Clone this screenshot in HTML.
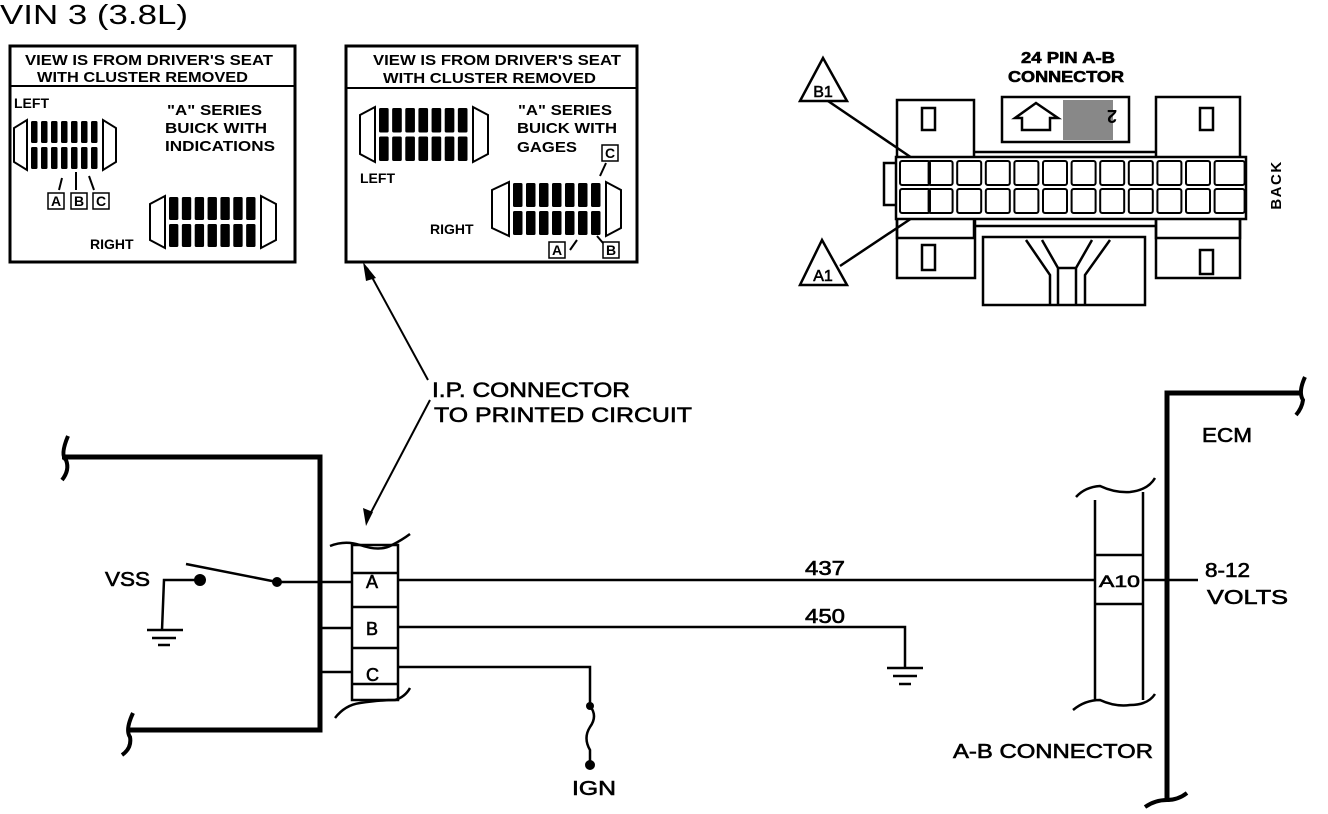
<!DOCTYPE html>
<html><head><meta charset="utf-8"><style>
html,body{margin:0;padding:0;background:#fff;}
svg{display:block;}
text{font-family:"Liberation Sans",sans-serif;fill:#000;}
.b{font-weight:bold;}
.m{stroke:#000;stroke-width:0.6;}
</style></head><body>
<svg id="s" width="1328" height="814" viewBox="0 0 1328 814" xmlns="http://www.w3.org/2000/svg">
<text x="0" y="24" font-size="28" textLength="188" lengthAdjust="spacingAndGlyphs">VIN 3 (3.8L)</text>

<!-- Box 1 -->
<rect x="10" y="46" width="285" height="216" fill="none" stroke="#000" stroke-width="3"/>
<line x1="10" y1="86" x2="295" y2="86" stroke="#000" stroke-width="2"/>
<text class="b" x="25" y="65" font-size="15" textLength="248" lengthAdjust="spacingAndGlyphs">VIEW IS FROM DRIVER'S SEAT</text>
<text class="b" x="37" y="82" font-size="15" textLength="211" lengthAdjust="spacingAndGlyphs">WITH CLUSTER REMOVED</text>
<text class="b" x="14" y="108" font-size="14">LEFT</text>
<text class="b" x="167" y="115" font-size="15" textLength="95" lengthAdjust="spacingAndGlyphs">"A" SERIES</text>
<text class="b" x="165" y="133" font-size="15" textLength="102" lengthAdjust="spacingAndGlyphs">BUICK WITH</text>
<text class="b" x="165" y="151" font-size="15" textLength="110" lengthAdjust="spacingAndGlyphs">INDICATIONS</text>
<text class="b" x="90" y="249" font-size="14">RIGHT</text>

<!-- Box 2 -->
<rect x="346" y="46" width="291" height="216" fill="none" stroke="#000" stroke-width="3"/>
<line x1="346" y1="88" x2="637" y2="88" stroke="#000" stroke-width="2"/>
<text class="b" x="373" y="65" font-size="15" textLength="248" lengthAdjust="spacingAndGlyphs">VIEW IS FROM DRIVER'S SEAT</text>
<text class="b" x="383" y="83" font-size="15" textLength="213" lengthAdjust="spacingAndGlyphs">WITH CLUSTER REMOVED</text>
<text class="b" x="518" y="115" font-size="15" textLength="94" lengthAdjust="spacingAndGlyphs">"A" SERIES</text>
<text class="b" x="517" y="133" font-size="15" textLength="100" lengthAdjust="spacingAndGlyphs">BUICK WITH</text>
<text class="b" x="517" y="152" font-size="15" textLength="60" lengthAdjust="spacingAndGlyphs">GAGES</text>
<text class="b" x="360" y="183" font-size="14">LEFT</text>
<text class="b" x="430" y="234" font-size="14">RIGHT</text>

<g id="pins"></g>

<g font-size="13" class="b" text-anchor="middle" stroke="#000" stroke-width="1.5" fill="none">
<rect x="48" y="193" width="16" height="16"/><rect x="71" y="193" width="16" height="16"/><rect x="93" y="193" width="16" height="16"/>
<rect x="602" y="145" width="16" height="16"/><rect x="549" y="242" width="16" height="16"/><rect x="603" y="242" width="16" height="16"/>
</g>
<g font-size="14" class="b" text-anchor="middle">
<text x="56" y="206">A</text><text x="79" y="206">B</text><text x="101" y="206">C</text>
<text x="610" y="158">C</text><text x="557" y="255">A</text><text x="611" y="255">B</text>
</g>
<g stroke="#000" stroke-width="2">
<line x1="62" y1="178" x2="59" y2="190"/><line x1="76" y1="172" x2="76" y2="190"/><line x1="89" y1="176" x2="94" y2="190"/>
<line x1="606" y1="163" x2="600" y2="176"/><line x1="570" y1="250" x2="577" y2="240"/><line x1="603" y1="243" x2="597" y2="236"/>
</g>

<g stroke="#000" stroke-width="2" fill="none">
<line x1="428" y1="380" x2="367" y2="268"/>
<line x1="430" y1="400" x2="367" y2="520"/>
</g>
<polygon points="363,262 376,278 366,281" fill="#000"/>
<polygon points="366,526 363,508 373,512" fill="#000"/>
<text class="m" x="432" y="397" font-size="21" textLength="198" lengthAdjust="spacingAndGlyphs">I.P. CONNECTOR</text>
<text class="m" x="434" y="422" font-size="21" textLength="258" lengthAdjust="spacingAndGlyphs">TO PRINTED CIRCUIT</text>

<!-- 24 pin connector -->
<text class="b m" x="1021" y="63" font-size="16" textLength="94" lengthAdjust="spacingAndGlyphs">24 PIN A-B</text>
<text class="b m" x="1008" y="82" font-size="16" textLength="116" lengthAdjust="spacingAndGlyphs">CONNECTOR</text>
<text class="b" x="1276" y="190" font-size="15" text-anchor="middle" transform="rotate(-90 1276 185)" letter-spacing="1.5">BACK</text>
<g stroke="#000" stroke-width="2.5" fill="#fff">
<polygon points="823,58 800,101 847,101"/>
<polygon points="822,240 800,285 847,285"/>
</g>
<text x="823" y="97" font-size="16" text-anchor="middle" class="m">B1</text>
<text x="823" y="281" font-size="16" text-anchor="middle" class="m">A1</text>
<g stroke="#000" stroke-width="2.5" fill="none">
<line x1="828" y1="101" x2="912" y2="158"/>
<line x1="840" y1="266" x2="912" y2="218"/>
<rect x="897" y="100" width="77" height="138"/>
<rect x="1156" y="97" width="84" height="141"/>
<rect x="1002" y="97" width="127" height="45"/>
<rect x="897" y="218" width="78" height="60"/>
<rect x="1156" y="218" width="84" height="60"/>
<rect x="983" y="237" width="162" height="68"/>
<rect x="896" y="157" width="350" height="62" fill="#fff"/>
<path d="M896 163 L884 163 L884 205 L896 205"/>
<rect x="922" y="108" width="13" height="22"/><rect x="1200" y="108" width="13" height="22"/>
<rect x="922" y="245" width="13" height="25"/><rect x="1200" y="250" width="13" height="24"/>
<path d="M1015 118 L1036 103 L1058 118 L1050 118 L1050 130 L1022 130 L1022 118 Z"/>
<path d="M1026 240 L1050 275 L1050 305 M1110 240 L1085 275 L1085 305 M1042 240 L1058 268 L1076 268 L1092 240 M1058 268 L1058 305 M1076 268 L1076 305"/>
<line x1="975" y1="152" x2="1156" y2="152"/>
<line x1="975" y1="226" x2="1156" y2="226"/>
</g>
<rect x="1063" y="100" width="50" height="40" fill="#888"/>
<text x="1117" y="122" font-size="18" class="b" transform="rotate(180 1117 116)">2</text>
<g id="cells" fill="none" stroke="#000" stroke-width="2"></g>

<g stroke="#000" fill="none">
<path d="M62 457 L320 457 L320 730 L127 730" stroke-width="5"/>
<path d="M68 436 Q60 455 66 460 Q70 470 62 480" stroke-width="4"/>
<path d="M133 713 Q125 730 130 737 Q132 748 122 755" stroke-width="4"/>
<path d="M186 564 L277 582 L352 582" stroke-width="2.5"/>
<path d="M200 580 L164 580 L162 630" stroke-width="2.5"/>
<path d="M147 630 L183 630 M152 638 L176 638 M158 645 L170 645" stroke-width="2.5"/>
<line x1="320" y1="628" x2="352" y2="628" stroke-width="2.5"/>
<line x1="320" y1="672" x2="352" y2="672" stroke-width="2.5"/>
<rect x="352" y="545" width="46" height="155" stroke-width="2.5"/>
<path d="M352 573 L398 573 M352 607 L398 607 M352 648 L398 648 M352 684 L398 684" stroke-width="2.5"/>
<path d="M330 546 Q345 540 360 545 Q380 552 392 545 Q402 540 410 534" stroke-width="2.5"/>
<path d="M335 718 Q345 705 360 703 Q380 700 395 700 Q405 697 410 688" stroke-width="2.5"/>
<path d="M398 580 L1095 580" stroke-width="2.5"/>
<path d="M398 627 L905 627 L905 668" stroke-width="2.5"/>
<path d="M887 668 L923 668 M893 676 L917 676 M899 684 L911 684" stroke-width="2.5"/>
<path d="M398 667 L590 667 L590 706 Q598 716 590 727 Q583 738 590 750 L590 763" stroke-width="2.5"/>
<path d="M1095 500 L1095 700 M1143 492 L1143 700" stroke-width="2.5"/>
<path d="M1076 497 Q1085 487 1100 486 Q1115 493 1130 492 Q1148 490 1155 478" stroke-width="2.5"/>
<path d="M1073 710 Q1085 700 1100 700 Q1115 707 1130 705 Q1148 705 1155 694" stroke-width="2.5"/>
<path d="M1095 555 L1143 555 M1095 604 L1143 604" stroke-width="2.5"/>
<path d="M1143 580 L1198 580" stroke-width="2.5"/>
<path d="M1167 802 L1167 393 L1300 393" stroke-width="5"/>
<path d="M1305 377 Q1298 392 1303 400 Q1302 408 1296 415" stroke-width="4"/>
<path d="M1145 807 Q1155 800 1167 800 Q1178 800 1187 793" stroke-width="4"/>
</g>
<g fill="#000">
<circle cx="200" cy="580" r="6"/><circle cx="277" cy="582" r="5"/>
<circle cx="590" cy="706" r="4"/><circle cx="590" cy="765" r="5"/>
</g>
<g font-size="20" class="m">
<text x="105" y="586" textLength="45" lengthAdjust="spacingAndGlyphs">VSS</text>
<text x="366" y="588" font-size="18">A</text>
<text x="366" y="635" font-size="18">B</text>
<text x="366" y="681" font-size="18">C</text>
<text x="1099" y="587" font-size="17" textLength="41" lengthAdjust="spacingAndGlyphs">A10</text>
<text x="805" y="575" textLength="40" lengthAdjust="spacingAndGlyphs">437</text>
<text x="805" y="623" textLength="40" lengthAdjust="spacingAndGlyphs">450</text>
<text x="572" y="795" textLength="44" lengthAdjust="spacingAndGlyphs">IGN</text>
<text x="1202" y="442" textLength="50" lengthAdjust="spacingAndGlyphs">ECM</text>
<text x="1205" y="577" textLength="45" lengthAdjust="spacingAndGlyphs">8-12</text>
<text x="1207" y="604" textLength="81" lengthAdjust="spacingAndGlyphs">VOLTS</text>
<text x="953" y="758" textLength="200" lengthAdjust="spacingAndGlyphs">A-B CONNECTOR</text>
</g>
</svg>
<script>
var NS="http://www.w3.org/2000/svg";
var g=document.getElementById("pins");
function el(t,a){var e=document.createElementNS(NS,t);for(var k in a)e.setAttribute(k,a[k]);g.appendChild(e);}
function conn(x1,x2,y1,y2,capL,capR){
  var h=y2-y1;
  el("polygon",{points:(x1-3)+","+y1+" "+(x1-3)+","+y2+" "+(x1-capL)+","+(y2-8)+" "+(x1-capL)+","+(y1+8),fill:"none",stroke:"#000","stroke-width":2});
  el("polygon",{points:(x2+3)+","+y1+" "+(x2+3)+","+y2+" "+(x2+capR)+","+(y2-8)+" "+(x2+capR)+","+(y1+8),fill:"none",stroke:"#000","stroke-width":2});
  var n=7,w=(x2-x1)/n,ph=(h-6)/2;
  for(var i=0;i<n;i++){
    el("rect",{x:x1+i*w+1,y:y1+1,width:w-3.5,height:ph,fill:"#000",rx:1.5});
    el("rect",{x:x1+i*w+1,y:y1+ph+5,width:w-3.5,height:ph,fill:"#000",rx:1.5});
  }
}
conn(30,100,120,170,16,16);
conn(168,258,196,248,18,18);
conn(378,470,107,162,18,18);
conn(512,603,182,236,20,18);
var c=document.getElementById("cells");
for(var r=0;r<2;r++)for(var i=0;i<12;i++){
  var e=document.createElementNS(NS,"rect");
  var x=900+i*28.6;
  e.setAttribute("x",x);e.setAttribute("y",r?189:161);
  e.setAttribute("width",i==0||i==11?30:24);e.setAttribute("height",24);e.setAttribute("rx",2);
  c.appendChild(e);
}
</script>
</body></html>
